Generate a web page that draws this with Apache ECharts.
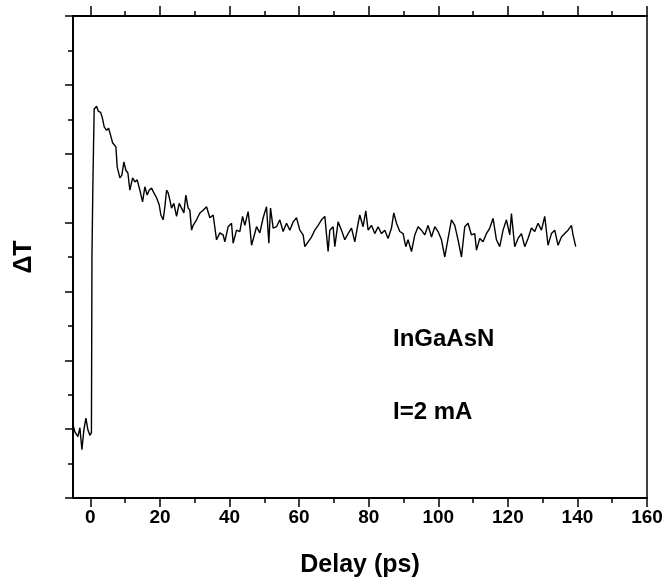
<!DOCTYPE html>
<html>
<head>
<meta charset="utf-8">
<script src="https://cdn.jsdelivr.net/npm/echarts@6/dist/echarts.min.js"></script>
<style>html,body{margin:0;padding:0;background:#fff;}#chart{width:668px;height:584px;}</style>
</head>
<body>
<div id="chart"></div>
<script>
// Delay values (ps)
const delay = [
-5.0,-4.45,-3.59,-3.02,-2.44,-1.87,-1.29,-0.72,-0.14,0.14,0.30,0.45,0.70,0.90,1.09,1.78,
2.24,2.93,3.39,3.97,4.66,5.23,5.80,6.38,6.75,7.33,7.70,8.48,9.05,9.63,10.20,10.78,11.35,12.13,12.79,13.45,
14.22,15.0,15.66,16.32,16.90,17.59,18.25,19.02,19.77,20.26,20.92,21.41,21.90,22.36,22.84,23.33,23.99,24.77,
25.52,26.21,26.87,27.44,28.10,28.59,29.08,29.54,30.52,31.47,32.41,33.39,34.34,35.29,36.26,37.21,38.16,38.65,
39.60,40.57,41.03,42.01,42.96,43.74,44.40,45.34,45.83,46.32,46.98,47.76,48.71,49.66,50.63,51.29,51.78,52.53,
53.51,54.45,55.40,56.38,57.33,58.28,59.25,60.20,61.15,61.64,62.59,63.56,64.51,65.46,66.44,67.39,68.33,68.82,
69.77,70.26,71.21,72.18,73.13,74.08,75.06,76.01,76.95,77.44,78.39,79.17,79.83,80.80,81.75,82.70,83.68,84.63,
85.57,86.55,87.21,87.99,88.94,89.89,90.66,91.32,92.30,93.25,94.20,95.17,96.12,97.07,98.05,99.0,99.94,100.92,
101.87,102.82,103.79,104.74,105.69,106.67,107.61,108.56,109.54,110.49,110.98,111.93,112.87,113.85,114.80,115.75,
116.72,117.67,118.62,119.60,120.55,121.03,121.98,122.93,123.91,124.86,125.80,126.78,127.73,128.68,129.66,130.60,
131.55,132.53,133.48,134.43,135.40,136.35,137.30,138.28,138.74,139.51
];
// ΔT values (arbitrary units)
const signal = [
1.06,0.96,0.89,1.02,0.70,0.99,1.16,0.99,0.91,0.90,0.95,3.50,4.50,5.10,5.65,5.69,
5.62,5.60,5.53,5.39,5.34,5.37,5.27,5.16,5.17,5.10,4.81,4.65,4.69,4.88,4.76,4.72,4.47,4.65,4.59,4.62,
4.47,4.30,4.52,4.40,4.47,4.50,4.43,4.36,4.26,4.11,4.04,4.23,4.47,4.43,4.33,4.21,4.28,4.09,
4.28,4.21,4.14,4.40,4.21,4.18,3.89,3.96,4.04,4.14,4.18,4.23,4.07,4.11,3.75,3.85,3.82,3.72,
3.94,3.99,3.70,3.89,3.87,4.09,3.96,4.16,3.94,3.67,3.79,3.94,3.85,4.07,4.23,3.70,4.21,3.92,
3.94,4.04,3.87,3.99,3.89,4.01,4.07,3.89,3.82,3.65,3.72,3.79,3.89,3.96,4.04,4.09,3.58,3.89,
3.94,3.65,4.01,3.89,3.75,3.84,3.92,3.72,3.99,4.11,3.94,4.17,3.89,3.96,3.84,3.94,3.84,3.89,
3.77,3.92,4.14,3.99,3.87,3.84,3.65,3.75,3.58,3.82,3.94,3.89,3.82,3.96,3.79,3.94,3.87,3.75,
3.50,3.77,4.04,3.96,3.75,3.50,3.94,3.99,3.82,3.84,3.60,3.77,3.72,3.84,3.92,4.06,
3.75,3.65,3.89,4.04,3.82,4.13,3.65,3.77,3.84,3.65,3.77,3.92,3.87,3.99,3.89,4.09,
3.67,3.84,3.89,3.67,3.79,3.84,3.89,3.96,3.82,3.65
];
const majorTicks = [0,20,40,60,80,100,120,140,160];
const minorTicks = [10,30,50,70,90,110,130,150];
const annotations = ['InGaAsN','I=2 mA'];

const font = '"Liberation Sans", Arial, sans-serif';
const chart = echarts.init(document.getElementById('chart'), null, {renderer:'canvas'});
function xAx(pos, ticks, len, showLine, showLabel){
  return {
    type:'value', position:pos, min:-5, max:160,
    axisLine:{show:showLine, onZero:false, lineStyle:{color:'#000', width:2}},
    axisTick:{show:true, inside:false, length:len, customValues:ticks, lineStyle:{color:'#000', width:1.5}},
    axisLabel:{show:showLabel, customValues:ticks, color:'#000', fontFamily:font, fontWeight:'bold', fontSize:19, margin:10},
    splitLine:{show:false}
  };
}
const xb = xAx('bottom', majorTicks, 9, true, true);
xb.name = 'Delay (ps)';
xb.nameLocation = 'middle';
xb.nameGap = 55;
xb.nameTextStyle = {color:'#000', fontFamily:font, fontWeight:'bold', fontSize:25};
const option = {
  animation:false,
  backgroundColor:'#fff',
  grid:{left:73, right:21, top:16, bottom:86, containLabel:false},
  xAxis:[
    xb,
    xAx('bottom', minorTicks, 5, false, false),
    xAx('top', majorTicks, 10, true, false),
    xAx('top', minorTicks, 5, false, false)
  ],
  yAxis:[
    {type:'value', position:'left', min:0, max:7, interval:1,
     axisLine:{show:true, onZero:false, lineStyle:{color:'#000', width:2}},
     axisTick:{show:true, inside:false, length:8, lineStyle:{color:'#000', width:1.5}},
     minorTick:{show:true, splitNumber:2, length:5, lineStyle:{color:'#000', width:1.5}},
     axisLabel:{show:false}, splitLine:{show:false},
     name:'ΔT', nameLocation:'middle', nameRotate:90, nameGap:36,
     nameTextStyle:{color:'#000', fontFamily:font, fontWeight:'bold', fontSize:25}},
    {type:'value', position:'right', min:0, max:7, interval:1,
     axisLine:{show:true, onZero:false, lineStyle:{color:'#000', width:1.5}},
     axisTick:{show:false}, axisLabel:{show:false}, splitLine:{show:false}}
  ],
  graphic:[
    {type:'text', left:393, top:327, style:{text:annotations[0], fill:'#000', font:'bold 24px "Liberation Sans", Arial, sans-serif'}},
    {type:'text', left:393, top:400, style:{text:annotations[1], fill:'#000', font:'bold 24px "Liberation Sans", Arial, sans-serif'}}
  ],
  series:[{
    type:'line', xAxisIndex:0, yAxisIndex:0, showSymbol:false, smooth:false,
    lineStyle:{color:'#000', width:1.4},
    data: delay.map((d,i)=>[d, signal[i]])
  }]
};
chart.setOption(option);
</script>
</body>
</html>
